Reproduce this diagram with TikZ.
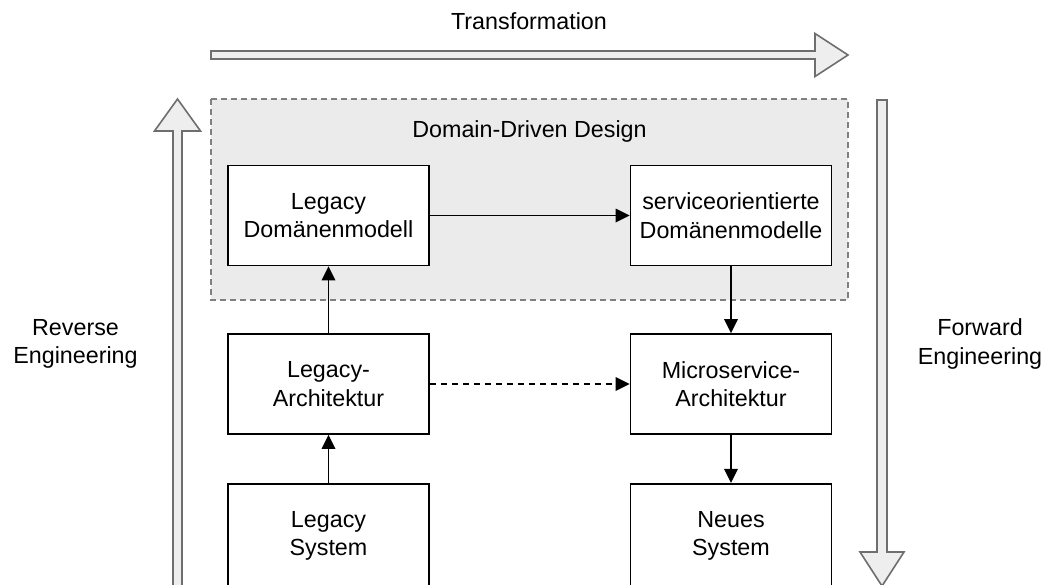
\documentclass[tikz,border=0pt]{standalone}
\usepackage{fontspec}
\setmainfont{Liberation Sans}
\usetikzlibrary{arrows.meta}
\definecolor{bigfill}{HTML}{EEEEEE}
\definecolor{bigline}{HTML}{6E6E6E}
\definecolor{ddfill}{HTML}{EBEBEB}
\definecolor{ddline}{HTML}{808080}
\tikzset{
  box/.style={draw=black, line width=1.8pt, fill=white, minimum width=201pt,
    minimum height=100pt, align=center, inner sep=0pt},
  label/.style={align=center, inner sep=0pt},
  conn/.style={line width=1.8pt, -{Triangle[length=14pt,width=13.5pt]}},
  bigarrow/.style={fill=bigfill, draw=bigline, line width=1.6pt, line join=miter},
}
\begin{document}
\begin{tikzpicture}[x=1pt, y=-1pt,
  every node/.style={font=\fontsize{23.3pt}{28.5pt}\selectfont}]
\useasboundingbox (0,0) rectangle (1048,584);
\clip (0,0) rectangle (1048,584);

% hollow arrows framing the process
\draw[bigarrow] (211,51) -- (815,51) -- (815,33.5) -- (848,55) -- (815,76.5)
  -- (815,59) -- (211,59) -- cycle;
\draw[bigarrow] (173,600) -- (173,131) -- (154.5,131) -- (177.5,99)
  -- (200.5,131) -- (182,131) -- (182,600);
\draw[bigarrow] (877,100) -- (887,100) -- (887,552) -- (904,552) -- (882,586)
  -- (860,552) -- (877,552) -- cycle;

% domain-driven design area
\draw[fill=ddfill, draw=ddline, line width=1.6pt, dash pattern=on 6pt off 4pt]
  (211,99) rectangle (848,300);

\node[label] (transf) at (529,21) {Transformation};
\node[label] (ddd) at (529.5,131) {Domain-Driven Design};
\node[label] (rev) at (75.5,344) {Reverse\\Engineering};
\node[label] (fwd) at (980,344) {Forward\\Engineering};

\node[box] (ldm) at (328.5,215.5) {Legacy\\Domänenmodell};
\node[box] (sdm) at (731,215.5) {serviceorientierte\\Domänenmodelle};
\node[box] (larch) at (328.5,384) {Legacy-\\Architektur};
\node[box] (march) at (731,384) {Microservice-\\Architektur};
% the lower boxes run past the bottom edge
\node[box, minimum height=104pt] (lsys) at (328.5,535.8) {Legacy\\System};
\node[box, minimum height=104pt] (nsys) at (731,535.8) {Neues\\System};

\draw[conn] (lsys.north) -- (larch);
\draw[conn] (larch) -- (ldm);
\draw[conn] (ldm) -- (sdm);
\draw[conn] (sdm) -- (march);
\draw[conn] (march) -- (nsys.north);
\draw[conn, dash pattern=on 6pt off 5pt] (larch) -- (march);
\end{tikzpicture}
\end{document}
